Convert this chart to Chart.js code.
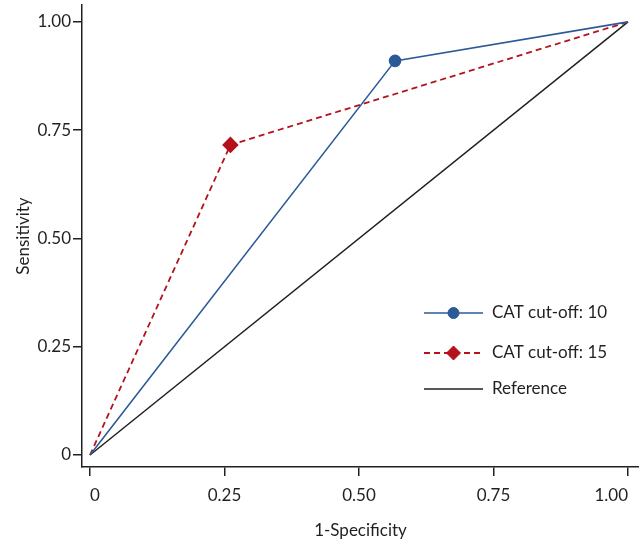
<!DOCTYPE html>
<html>
<head>
<meta charset="utf-8">
<script src="https://cdn.jsdelivr.net/npm/chart.js@4.4.1/dist/chart.umd.min.js"></script>
<style>
  body { margin: 0; background: #fff; }
</style>
</head>
<body>
<canvas id="myChart" width="639" height="547"></canvas>
<script>
// ROC points
var cat10X = [0, 0.567, 1];
var cat10Y = [0, 0.910, 1];
var cat15X = [0, 0.261, 1];
var cat15Y = [0, 0.716, 1];
var refX = [0, 1];
var refY = [0, 1];
var tickVals = [0, 0.25, 0.5, 0.75, 1];
var tickLabels = ["0", "0.25", "0.50", "0.75", "1.00"];
var seriesNames = ["CAT cut-off: 10", "CAT cut-off: 15", "Reference"];

var ink = '#231f20';
var fontSpec = { family: 'Lato', size: 17 };

function pts(xs, ys) {
  return xs.map((x, i) => ({ x: x, y: ys[i] }));
}

function tickLabel(v) {
  var i = tickVals.indexOf(v);
  return i >= 0 ? tickLabels[i] : '';
}

// legend drawn inside the plot, lower right
var insideLegend = {
  id: 'insideLegend',
  afterDraw: function(chart) {
    var ctx = chart.ctx;
    var x0 = 424, x1 = 483, tx = 492;
    var rows = [313, 353, 389];
    chart.data.datasets.forEach((ds, i) => {
      var y = rows[i];
      ctx.save();
      ctx.strokeStyle = ds.borderColor;
      ctx.lineWidth = ds.borderWidth;
      ctx.setLineDash(ds.borderDash || []);
      ctx.beginPath();
      ctx.moveTo(x0, y);
      ctx.lineTo(x1, y);
      ctx.stroke();
      ctx.setLineDash([]);
      if (ds.legendMarker) {
        ctx.fillStyle = ds.pointBackgroundColor;
        ctx.strokeStyle = ds.pointBackgroundColor;
        ctx.lineWidth = 1;
        Chart.helpers.drawPoint(ctx, {
          pointStyle: ds.pointStyle,
          radius: ds.legendMarker,
          borderWidth: 1
        }, (x0 + x1) / 2, y);
      }
      ctx.fillStyle = ink;
      ctx.font = '17px Lato';
      ctx.textBaseline = 'middle';
      ctx.fillText(seriesNames[i], tx, y);
      ctx.restore();
    });
  }
};

new Chart(document.getElementById('myChart'), {
  type: 'scatter',
  data: {
    datasets: [
      {
        label: seriesNames[0],
        data: pts(cat10X, cat10Y),
        showLine: true,
        borderColor: '#2b5b97',
        backgroundColor: '#2b5b97',
        pointBackgroundColor: '#2b5b97',
        borderWidth: 1.6,
        pointStyle: 'circle',
        pointRadius: [0, 5.5, 0],
        legendMarker: 5.5
      },
      {
        label: seriesNames[1],
        data: pts(cat15X, cat15Y),
        showLine: true,
        borderColor: '#b5121b',
        backgroundColor: '#b5121b',
        pointBackgroundColor: '#b5121b',
        borderWidth: 1.8,
        borderDash: [6, 4],
        pointStyle: 'rectRot',
        pointRadius: [0, 7, 0],
        legendMarker: 7
      },
      {
        label: seriesNames[2],
        data: pts(refX, refY),
        showLine: true,
        borderColor: ink,
        backgroundColor: ink,
        borderWidth: 1.5,
        pointRadius: 0
      }
    ]
  },
  options: {
    responsive: false,
    animation: false,
    layout: { padding: { top: 5, left: 0, right: 0, bottom: 0 } },
    plugins: {
      legend: { display: false },
      tooltip: { enabled: false }
    },
    scales: {
      x: {
        type: 'linear',
        min: -0.0149,
        max: 1.0204,
        afterBuildTicks: (s) => { s.ticks = tickVals.map(v => ({ value: v })); },
        afterFit: (s) => { s.height = 80; s.paddingLeft = 0; s.paddingRight = 0; },
        grid: { drawOnChartArea: false, tickLength: 9, color: ink, lineWidth: 1.5 },
        border: { color: ink, width: 1.5 },
        ticks: { callback: tickLabel, color: ink, font: fontSpec, padding: 9, maxRotation: 0, align: 'inner' },
        title: { display: true, text: '1-Specificity', color: ink, font: fontSpec, padding: { top: 4, bottom: 6 } }
      },
      y: {
        type: 'linear',
        min: -0.0277,
        max: 1.039,
        afterBuildTicks: (s) => { s.ticks = tickVals.map(v => ({ value: v })); },
        afterFit: (s) => { s.width = 82; s.paddingTop = 0; s.paddingBottom = 0; },
        grid: { drawOnChartArea: false, tickLength: 9, color: ink, lineWidth: 1.5 },
        border: { color: ink, width: 1.5 },
        ticks: { callback: tickLabel, color: ink, font: fontSpec, padding: 2 },
        title: { display: true, text: 'Sensitivity', color: ink, font: fontSpec, padding: { top: 13, bottom: 4 } }
      }
    }
  },
  plugins: [insideLegend]
});
</script>
</body>
</html>
